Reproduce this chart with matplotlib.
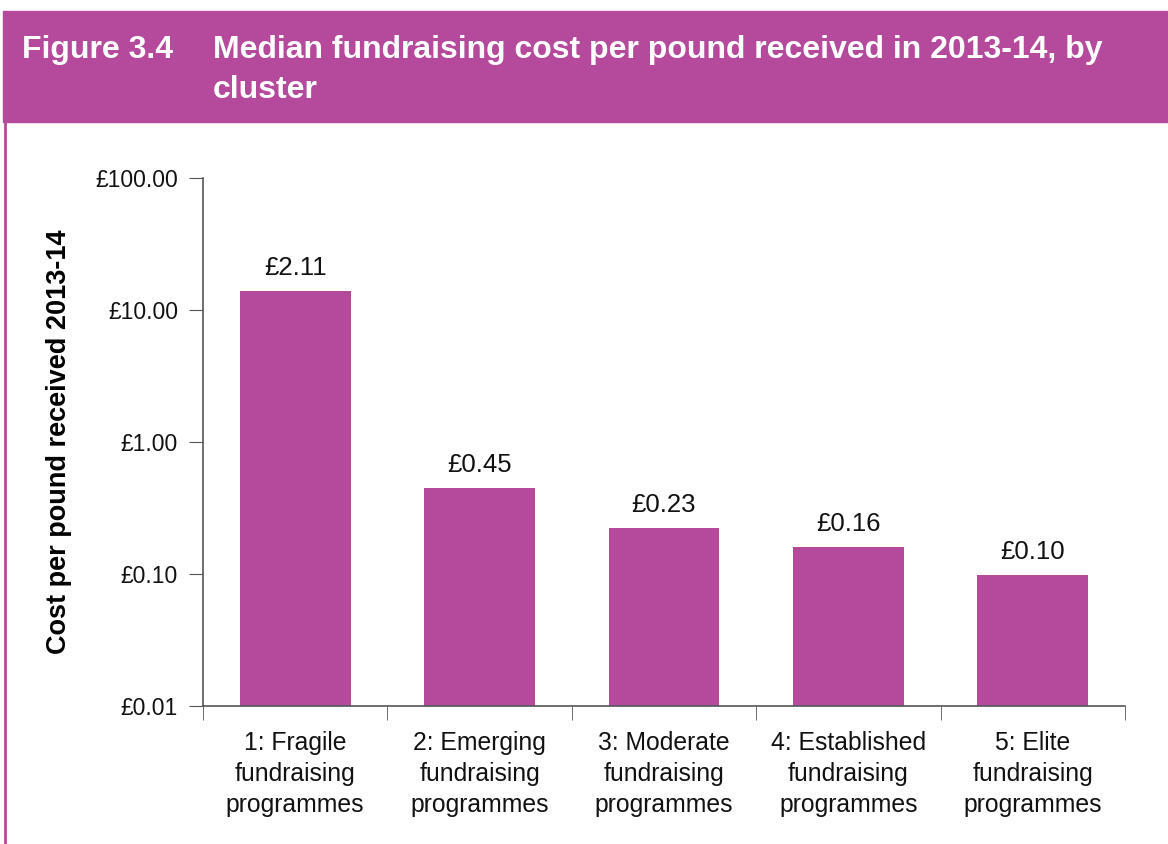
import matplotlib.pyplot as plt
from matplotlib.patches import Rectangle
from matplotlib.lines import Line2D
from matplotlib.ticker import FixedLocator, NullLocator

# bar heights (labels as printed in the report)
clusters = ["1: Fragile\nfundraising\nprogrammes",
            "2: Emerging\nfundraising\nprogrammes",
            "3: Moderate\nfundraising\nprogrammes",
            "4: Established\nfundraising\nprogrammes",
            "5: Elite\nfundraising\nprogrammes"]
heights = [13.9, 0.45, 0.225, 0.16, 0.099]
value_labels = ["£2.11", "£0.45", "£0.23", "£0.16", "£0.10"]
yticks = [0.01, 0.1, 1, 10, 100]
ytick_labels = ["£0.01", "£0.10", "£1.00", "£10.00", "£100.00"]

purple = "#b5499b"
W, H = 1168, 844

plt.rcParams['font.family'] = ['Liberation Sans', 'DejaVu Sans']
fig = plt.figure(figsize=(W / 100, H / 100), dpi=100)

# header band and left rule
fig.patches.append(Rectangle((3 / W, 1 - 122 / H), 1, 111 / H,
                             transform=fig.transFigure, color=purple, zorder=0))
fig.lines.append(Line2D([5 / W, 5 / W], [0, 1 - 122 / H], transform=fig.transFigure,
                        color=purple, lw=2))
fig.text(22 / W, 1 - 50 / H, "Figure 3.4", color="white", fontsize=23,
         fontweight="bold", va="center")
fig.text(213 / W, 1 - 50 / H, "Median fundraising cost per pound received in 2013-14, by",
         color="white", fontsize=23, fontweight="bold", va="center")
fig.text(213 / W, 1 - 90 / H, "cluster", color="white", fontsize=23,
         fontweight="bold", va="center")

ax = fig.add_axes([203 / W, 1 - 706 / H, (1125 - 203) / W, (706 - 178) / H])
x = range(len(clusters))
ax.bar(x, heights, width=0.6, color=purple, zorder=2)
ax.set_yscale("log")
ax.set_ylim(0.01, 100)
ax.set_xlim(-0.5, len(clusters) - 0.5)

ax.yaxis.set_major_locator(FixedLocator(yticks))
ax.yaxis.set_minor_locator(NullLocator())
ax.set_yticklabels(ytick_labels)
ax.set_xticks(list(x))
ax.set_xticklabels(clusters, linespacing=1.36)
ax.set_xticks([i - 0.5 for i in range(len(clusters) + 1)], minor=True)
ax.tick_params(axis="x", which="major", length=0, pad=18, labelsize=17.8, colors="#111111")
ax.tick_params(axis="x", which="minor", length=10, direction="out", color="#555555")
ax.tick_params(axis="y", length=10, direction="out", color="#555555", labelsize=16.5,
               pad=8, labelcolor="#111111")

for s in ["top", "right"]:
    ax.spines[s].set_visible(False)
for s in ["left", "bottom"]:
    ax.spines[s].set_color("#555555")
    ax.spines[s].set_linewidth(1.2)

ax.set_ylabel("Cost per pound received 2013-14", fontsize=19.5, fontweight="bold",
              labelpad=17)

for i, (h, lab) in enumerate(zip(heights, value_labels)):
    ax.annotate(lab, (i, h), xytext=(0, 11.5), textcoords="offset points",
                ha="center", va="baseline", fontsize=18.5, color="#111111")

fig.savefig("out.png", dpi=100)
